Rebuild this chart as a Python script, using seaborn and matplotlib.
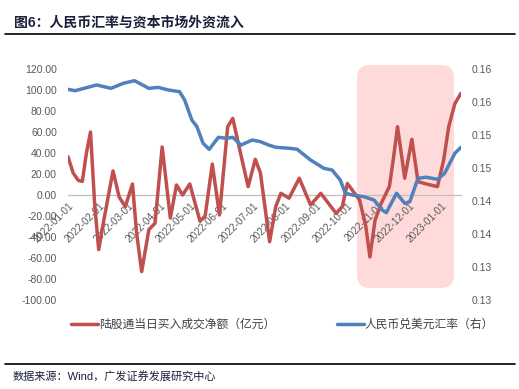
import numpy as np
import pandas as pd
import matplotlib
matplotlib.use("Agg")
import matplotlib.pyplot as plt
import matplotlib.dates as mdates
from matplotlib.patches import FancyBboxPatch
from matplotlib.lines import Line2D
import seaborn as sns

# ---------------- data ----------------
flow_dates = ["2022-01-01", "2022-01-06", "2022-01-11", "2022-01-15", "2022-01-19", "2022-01-23",
              "2022-01-27", "2022-01-31", "2022-02-05", "2022-02-14", "2022-02-20", "2022-02-26",
              "2022-03-05", "2022-03-09", "2022-03-14", "2022-03-21", "2022-03-27", "2022-04-03",
              "2022-04-11", "2022-04-17", "2022-04-23", "2022-04-30", "2022-05-10", "2022-05-15",
              "2022-05-22", "2022-05-29", "2022-06-06", "2022-06-11", "2022-06-19", "2022-06-26",
              "2022-07-03", "2022-07-08", "2022-07-17", "2022-07-23", "2022-07-28", "2022-08-05",
              "2022-08-15", "2022-08-26", "2022-09-05", "2022-09-20", "2022-09-26", "2022-10-01",
              "2022-10-13", "2022-10-19", "2022-10-23", "2022-10-28", "2022-11-03", "2022-11-11",
              "2022-11-15", "2022-11-19", "2022-11-26", "2022-12-03", "2022-12-09", "2022-12-17",
              "2022-12-28", "2023-01-03", "2023-01-08", "2023-01-14", "2023-01-20"]
flow_values = [36.5, 21, 14, 13, 40, 60,
               -8, -52, -24, 23, -2, -11,
               10.5, -36, -73, -33, -27, 45.7,
               -22, 9.5, 0, 10.5, -25, -20,
               29.5, -19, 65, 73, 38, 8,
               34, 21, -44.5, -11, 1.6, -3,
               16, -9.5, 1.6, -17.5, -11, 11,
               -5, -30, -59, -24, -8, 8,
               35, 65, 16, 53, 12.7, 10.5,
               8, 33, 65, 87, 97]

fx_dates = ["2022-01-01", "2022-01-08", "2022-01-29", "2022-02-12", "2022-02-24", "2022-03-07",
            "2022-03-21", "2022-03-30", "2022-04-09", "2022-04-20", "2022-04-25", "2022-05-02",
            "2022-05-07", "2022-05-13", "2022-05-19", "2022-05-28", "2022-06-05", "2022-06-11",
            "2022-06-19", "2022-06-30", "2022-07-08", "2022-07-16", "2022-07-23", "2022-08-06",
            "2022-08-13", "2022-08-26", "2022-09-08", "2022-09-16", "2022-09-24", "2022-09-29",
            "2022-10-06", "2022-10-17", "2022-10-27", "2022-11-04", "2022-11-08", "2022-11-18",
            "2022-11-26", "2022-12-01", "2022-12-09", "2022-12-17", "2022-12-28", "2023-01-04",
            "2023-01-14", "2023-01-20"]
fx_values = [0.15692, 0.15671, 0.15758, 0.15707, 0.15783, 0.15823,
             0.15707, 0.15722, 0.15682, 0.15656, 0.15530, 0.15227,
             0.15126, 0.14874, 0.14783, 0.14965, 0.14950, 0.14965,
             0.14848, 0.14924, 0.14899, 0.14848, 0.14814, 0.14798,
             0.14783, 0.14621, 0.14495, 0.14470, 0.14318, 0.14117,
             0.14091, 0.14065, 0.14015, 0.13864, 0.13823, 0.14117,
             0.13965, 0.13990, 0.14344, 0.14360, 0.14329, 0.14420,
             0.14723, 0.14814]

left_ticks = [120, 100, 80, 60, 40, 20, 0, -20, -40, -60, -80, -100]
right_ticks = [0.125, 0.130, 0.135, 0.140, 0.145, 0.150, 0.155, 0.160]
right_tick_labels = ["0.13", "0.13", "0.14", "0.14", "0.15", "0.15", "0.16", "0.16"]

title_text = "图6：人民币汇率与资本市场外资流入"
source_text = "数据来源：Wind，广发证券发展研究中心"
flow_label = "陆股通当日买入成交净额（亿元）"
fx_label = "人民币兑美元汇率（右）"

# ---------------- style ----------------
sns.set_style("white")
plt.rcParams["font.family"] = ["Liberation Sans", "Noto Sans CJK SC", "DejaVu Sans"]

RED = "#C0504D"
BLUE = "#4F81BD"
TXT = "#595959"

flow_df = pd.DataFrame({"date": pd.to_datetime(flow_dates), "value": flow_values})
fx_df = pd.DataFrame({"date": pd.to_datetime(fx_dates), "value": fx_values})

fig = plt.figure(figsize=(5.19, 3.89), dpi=100)
ax = fig.add_axes([68 / 519, 1 - 300 / 389, (461 - 68) / 519, (300 - 69) / 389])
ax.set_facecolor("none")
ax2 = ax.twinx()

# highlight box (rounded) in figure inches
box = FancyBboxPatch((357 / 100, (389 - 288) / 100), 97 / 100, 223 / 100,
                     boxstyle="round,pad=0,rounding_size=0.13",
                     transform=fig.dpi_scale_trans, facecolor="#FFDADA",
                     edgecolor="none", clip_on=False, zorder=0.1)
ax.add_patch(box)

sns.lineplot(data=flow_df, x="date", y="value", ax=ax, color=RED, linewidth=2.5,
             legend=False, zorder=3, solid_joinstyle="round", solid_capstyle="round")
sns.lineplot(data=fx_df, x="date", y="value", ax=ax2, color=BLUE, linewidth=2.5,
             legend=False, zorder=3, solid_joinstyle="round", solid_capstyle="round")

ax.set_xlim(flow_df["date"].min(), flow_df["date"].max())
ax.set_ylim(-100, 120)
ax.set_yticks(left_ticks)
ax.set_yticklabels([f"{v:.2f}" for v in left_ticks])
ax2.set_ylim(0.125, 0.160)
ax2.set_yticks(right_ticks)
ax2.set_yticklabels(right_tick_labels)

for a in (ax, ax2):
    for s in a.spines.values():
        s.set_visible(False)
    a.set_xlabel("")
    a.set_ylabel("")
    a.grid(False)

ax.spines["bottom"].set_visible(True)
ax.spines["bottom"].set_position(("data", 0))
ax.spines["bottom"].set_color("#BFBFBF")
ax.spines["bottom"].set_linewidth(0.9)

ax.xaxis.set_major_locator(mdates.MonthLocator())
ax.xaxis.set_major_formatter(mdates.DateFormatter("%Y-%m-%d"))
ax.tick_params(axis="x", direction="out", length=3, color="#BFBFBF", labelsize=7.2,
               labelcolor=TXT, pad=1)
for lbl in ax.get_xticklabels():
    lbl.set_rotation(45)
    lbl.set_ha("right")
    lbl.set_va("top")
    lbl.set_rotation_mode("anchor")

ax.tick_params(axis="y", length=0, labelsize=7.5, labelcolor=TXT, pad=8)
ax2.tick_params(axis="y", length=0, labelsize=7.5, labelcolor=TXT, pad=8)

# legend
handles = [Line2D([], [], color=RED, linewidth=2.5), Line2D([], [], color=BLUE, linewidth=2.5)]
fig.legend(handles, [flow_label, fx_label], loc="center left",
           bbox_to_anchor=(60 / 519, 1 - 325 / 389), ncol=2, frameon=False,
           fontsize=8.5, handlelength=2.3, handletextpad=0.1, columnspacing=5.2,
           labelcolor="#404040")

# title and rules
fig.text(14 / 519, 1 - 23 / 389, title_text, fontsize=10, fontweight="bold",
         color="#1B1F3A", ha="left", va="center")
fig.add_artist(Line2D([5 / 519, 515 / 519], [1 - 34 / 389, 1 - 34 / 389],
                      color="black", linewidth=1.2))
fig.add_artist(Line2D([5 / 519, 515 / 519], [1 - 364 / 389, 1 - 364 / 389],
                      color="black", linewidth=1.2))
fig.text(13 / 519, 1 - 376 / 389, source_text, fontsize=8, color="#1B1F3A",
         ha="left", va="center")

fig.savefig("out.png", dpi=100)
